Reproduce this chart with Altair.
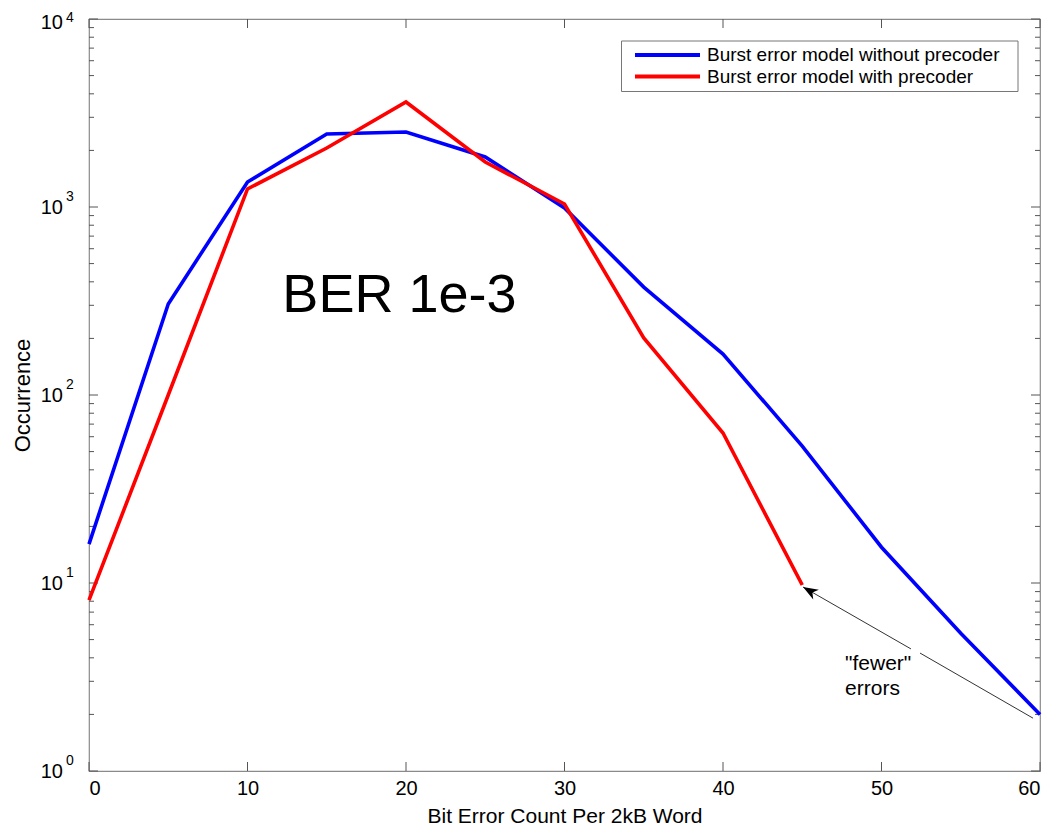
import altair as alt
import pandas as pd

# ---------------- data ----------------
series_names = ["Burst error model without precoder", "Burst error model with precoder"]
series_colors = ["#0000ff", "#ff0000"]

blue_x = [0, 5, 10, 15, 20, 25, 30, 35, 40, 45, 50, 55, 60]
blue_y = [16.1, 305, 1358, 2446, 2505, 1845, 988, 375, 165, 53.5, 15.5, 5.4, 2.0]

red_x = [0, 5, 10, 15, 20, 25, 30, 35, 40, 45]
red_y = [8.1, 100, 1247, 2060, 3620, 1735, 1037, 201, 62.8, 9.76]

x_ticks = [0, 10, 20, 30, 40, 50, 60]
y_major = [1, 10, 100, 1000, 10000]
y_major_exp = ["0", "1", "2", "3", "4"]
y_minor = [2, 3, 4, 5, 6, 7, 8, 9,
           20, 30, 40, 50, 60, 70, 80, 90,
           200, 300, 400, 500, 600, 700, 800, 900,
           2000, 3000, 4000, 5000, 6000, 7000, 8000, 9000]

big_label = "BER 1e-3"
big_label_x = [12.2]
big_label_y = [276]

note_lines = ['"fewer"', "errors"]
note_x = [47.7, 47.7]
note_y = [3.44, 2.54]

# arrow: two segments (gap near the note) and the head at the red line end
arrow_seg = [0, 0, 1, 1]
arrow_x = [59.56, 52.43, 51.86, 45.05]
arrow_y = [1.91, 4.24, 4.46, 9.52]
head_x = [45.05]
head_y = [9.52]

# ---------------- layout ----------------
W, H = 951, 752
FONT = "Liberation Sans"
BOX = "#8a8a8a"
TICK = "#555555"

xscale = alt.Scale(domain=[0, 60], nice=False, zero=False)
yscale = alt.Scale(type="log", domain=[1, 10000], nice=False)

xaxis = alt.Axis(values=x_ticks, grid=False, ticks=False, tickSize=0, domain=False,
                 labelFontSize=20, labelPadding=7, labelColor="black", labelFont=FONT,
                 title="Bit Error Count Per 2kB Word", titleFontSize=21,
                 titleFontWeight="normal", titleColor="black", titleFont=FONT,
                 titleY=51, titleBaseline="alphabetic")
yaxis = alt.Axis(grid=False, ticks=False, domain=False, labels=False,
                 title="Occurrence", titleFontSize=22, titleFontWeight="normal",
                 titleColor="black", titleFont=FONT, titleX=-67, titleY=H / 2,
                 titleAngle=270, titleAlign="center", titleBaseline="middle")


def X(f):
    return alt.X(f, type="quantitative", scale=xscale, axis=xaxis)


def Y(f):
    return alt.Y(f, type="quantitative", scale=yscale, axis=yaxis)


blue_df = pd.DataFrame({"x": blue_x, "y": blue_y})
red_df = pd.DataFrame({"x": red_x, "y": red_y})

blue_line = alt.Chart(blue_df).mark_line(color=series_colors[0], strokeWidth=3.6).encode(x=X("x"), y=Y("y"))
red_line = alt.Chart(red_df).mark_line(color=series_colors[1], strokeWidth=3.6).encode(x=X("x"), y=Y("y"))

# inward ticks (MATLAB style, box on)
xt_df = pd.DataFrame({"x": x_ticks})
ymaj_df = pd.DataFrame({"y": y_major, "e": y_major_exp})
ymin_df = pd.DataFrame({"y": y_minor})

xt_bottom = alt.Chart(xt_df).mark_rule(color=TICK, strokeWidth=1).encode(
    x=X("x"), y=alt.value(H), y2=alt.value(H - 9))
xt_top = alt.Chart(xt_df).mark_rule(color=TICK, strokeWidth=1).encode(
    x=X("x"), y=alt.value(0), y2=alt.value(9))
ymaj_left = alt.Chart(ymaj_df).mark_rule(color=TICK, strokeWidth=1).encode(
    y=Y("y"), x=alt.value(0), x2=alt.value(9))
ymaj_right = alt.Chart(ymaj_df).mark_rule(color=TICK, strokeWidth=1).encode(
    y=Y("y"), x=alt.value(W), x2=alt.value(W - 9))
ymin_left = alt.Chart(ymin_df).mark_rule(color=TICK, strokeWidth=1).encode(
    y=Y("y"), x=alt.value(0), x2=alt.value(5))
ymin_right = alt.Chart(ymin_df).mark_rule(color=TICK, strokeWidth=1).encode(
    y=Y("y"), x=alt.value(W), x2=alt.value(W - 5))


# y tick labels 10^k with superscript exponent (top label nudged down like MATLAB)
def ylabels(filt, base_dy, exp_dy):
    base = alt.Chart(ymaj_df).transform_filter(filt).mark_text(
        text="10", align="right", baseline="middle", fontSize=20, font=FONT,
        color="black", dy=base_dy
    ).encode(y=Y("y"), x=alt.value(-26))
    exp = alt.Chart(ymaj_df).transform_filter(filt).mark_text(
        align="left", baseline="middle", fontSize=14, font=FONT,
        color="black", dy=exp_dy
    ).encode(y=Y("y"), x=alt.value(-23), text="e:N")
    return [base, exp]


ylab_layers = (ylabels("datum.y < 10000", 1, -10)
               + ylabels("datum.y >= 10000", 4, -1))

# annotations
big_df = pd.DataFrame({"x": big_label_x, "y": big_label_y, "t": [big_label]})
big_text = alt.Chart(big_df).mark_text(
    align="left", baseline="alphabetic", fontSize=54, font=FONT, color="black"
).encode(x=X("x"), y=Y("y"), text="t:N")

note_df = pd.DataFrame({"x": note_x, "y": note_y, "t": note_lines})
note_text = alt.Chart(note_df).mark_text(
    align="left", baseline="alphabetic", fontSize=21, font=FONT, color="black"
).encode(x=X("x"), y=Y("y"), text="t:N")

arrow_df = pd.DataFrame({"x": arrow_x, "y": arrow_y, "seg": arrow_seg})
arrow_line = alt.Chart(arrow_df).mark_line(color="#333333", strokeWidth=1).encode(
    x=X("x"), y=Y("y"), detail="seg:N")

head_df = pd.DataFrame({"x": head_x, "y": head_y})
arrow_head = alt.Chart(head_df).mark_point(
    shape="M0,0 L0.6,1.6 L0,1.15 L-0.6,1.6 Z", filled=True, color="black",
    opacity=1, size=352, angle=300, strokeWidth=0
).encode(x=X("x"), y=Y("y"))

# legend (drawn by hand, MATLAB style box)
leg_box = alt.Chart(pd.DataFrame({"a": [0]})).mark_rect(
    fill="white", stroke="#777777", strokeWidth=1
).encode(x=alt.value(532.5), x2=alt.value(929), y=alt.value(22), y2=alt.value(72.5))

leg_layers = [leg_box]
for i, (name, col) in enumerate(zip(series_names, series_colors)):
    yy = 36 + 21.5 * i
    leg_layers.append(
        alt.Chart(pd.DataFrame({"a": [0]})).mark_rule(color=col, strokeWidth=4).encode(
            x=alt.value(546), x2=alt.value(611), y=alt.value(yy))
    )
    leg_layers.append(
        alt.Chart(pd.DataFrame({"name": [name]})).mark_text(
            align="left", baseline="middle", fontSize=19, font=FONT, color="black"
        ).encode(text="name:N", x=alt.value(618), y=alt.value(yy))
    )

chart = alt.layer(
    xt_bottom, xt_top, ymaj_left, ymaj_right, ymin_left, ymin_right,
    blue_line, red_line,
    arrow_line, arrow_head, big_text, note_text,
    *ylab_layers,
    *leg_layers
).properties(
    width=W, height=H,
    autosize=alt.AutoSizeParams(type="none"),
    padding={"left": 81, "top": 11, "right": 5, "bottom": 58},
    background="white",
).configure_view(stroke=BOX, strokeWidth=1.2)

chart.save("out.html", embed_options={"renderer": "svg", "actions": False})
